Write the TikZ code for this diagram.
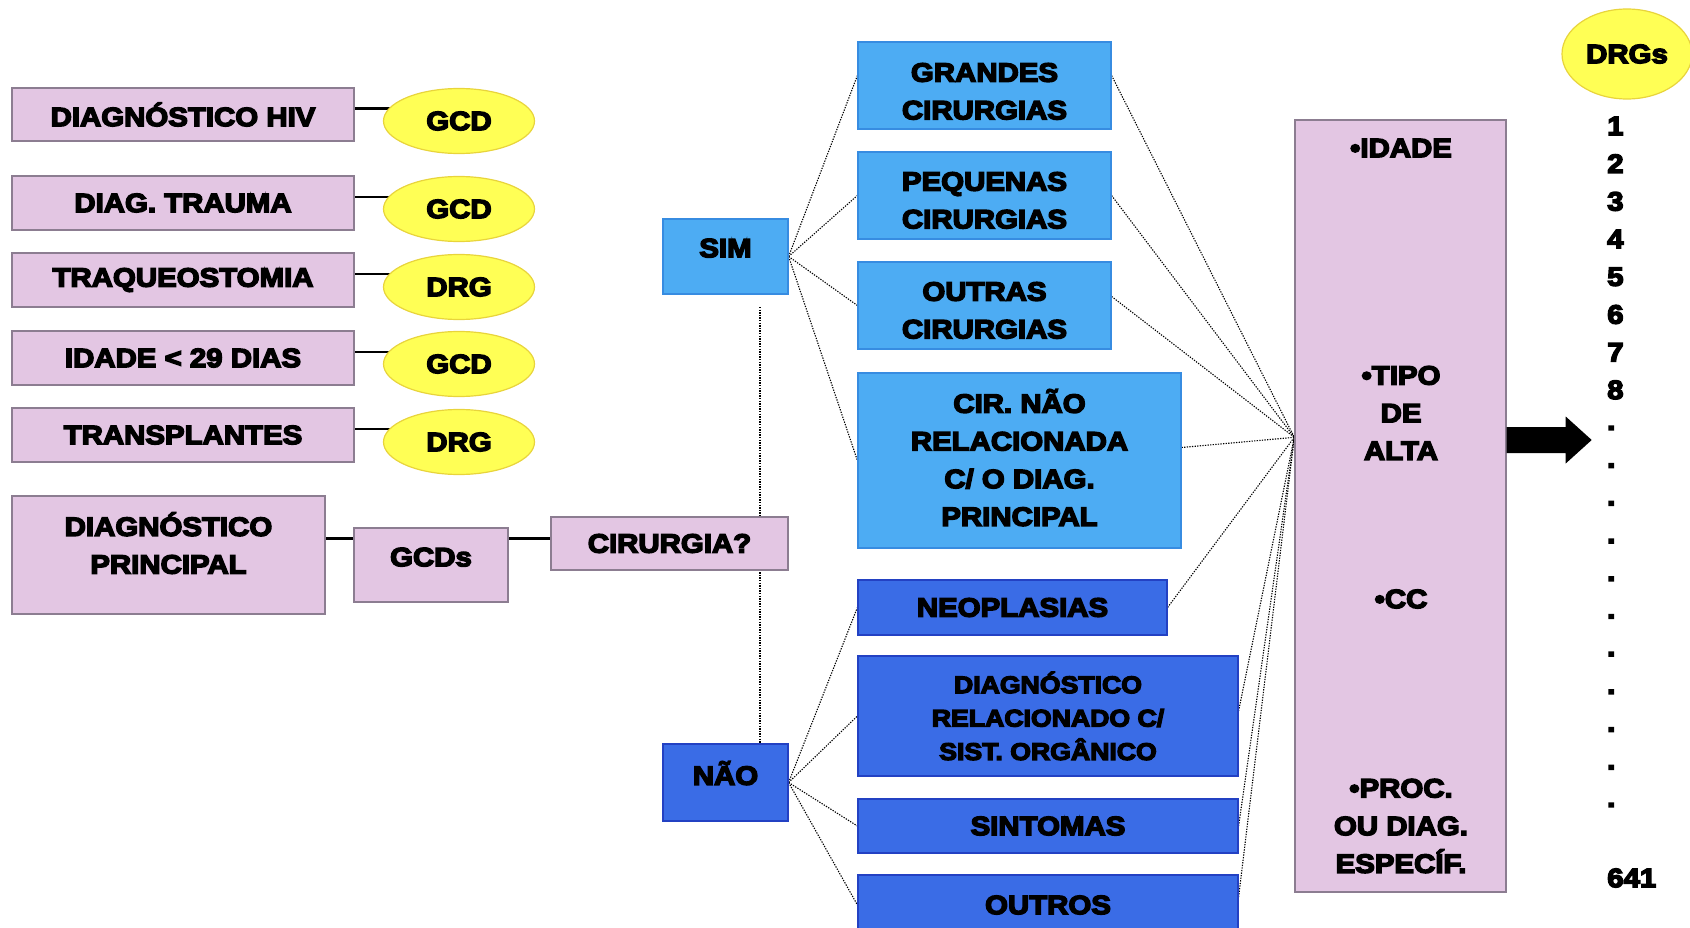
\documentclass[tikz,border=0pt]{standalone}
\usepackage{fontspec}
\newfontfamily\hv{Liberation Sans Bold}[FakeBold=5.5,FakeStretch=1.11]
\usetikzlibrary{calc,shapes.geometric}
\definecolor{pinkf}{RGB}{227,198,227}
\definecolor{pinkd}{RGB}{140,125,145}
\definecolor{lblue}{RGB}{77,172,243}
\definecolor{lblued}{RGB}{55,140,225}
\definecolor{dblue}{RGB}{58,108,230}
\definecolor{dblued}{RGB}{35,65,195}
\definecolor{yel}{RGB}{255,255,85}
\definecolor{yeld}{RGB}{232,212,60}
\pgfdeclarelayer{bg}
\pgfsetlayers{bg,main}
\tikzset{
  txt/.style={font=\hv\fontsize{26.5}{37.7}\selectfont, align=center, text=black, inner sep=0pt},
  pbox/.style={txt, draw=pinkd, fill=pinkf, line width=1.4pt},
  lbox/.style={txt, draw=lblued, fill=lblue, line width=1.2pt},
  dbox/.style={txt, draw=dblued, fill=dblue, line width=1.2pt},
  yell/.style={txt, ellipse, draw=yeld, fill=yel, line width=1.2pt},
  num/.style={txt, anchor=west},
  sline/.style={line width=2.4pt, black},
  dline/.style={line width=1.1pt, black, dash pattern=on 1.3pt off 1.3pt}
}
\begin{document}
\begin{tikzpicture}[x=1pt,y=-1pt]
\useasboundingbox (0,0) rectangle (1690,928);
% left column
\node[pbox, minimum width=342, minimum height=53] (b1) at (183,114.5) {DIAGNÓSTICO HIV};
\node[pbox, minimum width=342, minimum height=54] (b2) at (183,203) {DIAG. TRAUMA};
\node[pbox, minimum width=342, minimum height=54] (b3) at (183,280) {TRAQUEOSTOMIA};
\node[pbox, minimum width=342, minimum height=54] (b4) at (183,358) {IDADE < 29 DIAS};
\node[pbox, minimum width=342, minimum height=54] (b5) at (183,435) {TRANSPLANTES};
\node[yell, minimum width=151, minimum height=65] (e1) at (459,121) {GCD};
\node[yell, minimum width=151, minimum height=65] (e2) at (459,209) {GCD};
\node[yell, minimum width=151, minimum height=65] (e3) at (459,287) {DRG};
\node[yell, minimum width=151, minimum height=65] (e4) at (459,364) {GCD};
\node[yell, minimum width=151, minimum height=65] (e5) at (459,442) {DRG};
% bottom-left chain
\node[pbox, minimum width=313, minimum height=118, text depth=24pt] (dp) at (168.5,555) {DIAGNÓSTICO\\PRINCIPAL};
\node[pbox, minimum width=154, minimum height=74, text depth=16pt] (gc) at (431,565) {GCDs};
\node[pbox, minimum width=237, minimum height=53] (cir) at (669.5,543.5) {CIRURGIA?};
% sim / nao
\node[lbox, minimum width=125, minimum height=75, text depth=17pt] (sim) at (725.5,256.5) {SIM};
\node[dbox, minimum width=125, minimum height=77, text depth=19pt] (nao) at (725.5,782.5) {NÃO};
% light blue
\node[lbox, minimum width=253, minimum height=87, text height=68pt] (g1) at (984.5,85.5) {GRANDES\\CIRURGIAS};
\node[lbox, minimum width=253, minimum height=87, text height=66pt] (g2) at (984.5,195.5) {PEQUENAS\\CIRURGIAS};
\node[lbox, minimum width=253, minimum height=87, text height=66pt] (g3) at (984.5,305.5) {OUTRAS\\CIRURGIAS};
\node[lbox, minimum width=323, minimum height=175, text depth=6pt] (g4) at (1019.5,460.5) {CIR. NÃO\\RELACIONADA\\C/ O DIAG.\\PRINCIPAL};
% dark blue
\node[dbox, minimum width=309, minimum height=55] (d1) at (1012.5,607.5) {NEOPLASIAS};
\node[dbox, minimum width=380, minimum height=120, font=\hv\fontsize{24}{33.4}\selectfont] (d2) at (1048,716) {DIAGNÓSTICO\\RELACIONADO C/\\SIST. ORGÂNICO};
\node[dbox, minimum width=380, minimum height=54] (d3) at (1048,826) {SINTOMAS};
\node[dbox, minimum width=380, minimum height=60] (d4) at (1048,905) {OUTROS};
% right pink box
\node[pbox, minimum width=211, minimum height=772] (rb) at (1400.5,506) {};
\node[txt] (t1) at (1401,148) {•IDADE};
\node[txt] (t2) at (1401,413) {•TIPO\\DE\\ALTA};
\node[txt] (t3) at (1401,599) {•CC};
\node[txt] (t4) at (1401,826) {•PROC.\\OU DIAG.\\ESPECÍF.};
\coordinate (hub) at ($(rb.north west)+(0,318)$);
% arrow
\coordinate (ar) at ($(rb.east)+(0,-66.5)$);
\fill[black] (ar) ++(0,-12.5) -- ++(59,0) -- ++(0,-10.5) -- ++(26,23.5) -- ++(-26,23.5) -- ++(0,-10.5) -- ++(-59,0) -- cycle;
% DRGs column
\node[yell, minimum width=130, minimum height=90] (drg) at (1627,54) {DRGs};
\foreach \n [count=\k from 0] in {1,...,8}
  \node[num] (n\n) at (1607,{126+37.7*\k}) {\n};
\foreach \k in {0,...,10}
  \node[num] (dot\k) at (1607,{428+37.7*\k}) {.};
\node[num] (nlast) at (1607,878) {641};
% connectors
\begin{pgfonlayer}{bg}
\foreach \i in {1,...,5}
  \draw[sline] ([yshift=6pt]b\i.east) -- ([yshift=6pt]b\i.east -| e\i.center);
\draw[sline] ([yshift=5pt]dp.east |- cir.center) -- ([yshift=5pt]gc.west |- cir.center);
\draw[sline] ([yshift=5pt]gc.east |- cir.center) -- ([yshift=5pt]cir.west);
\coordinate (v1) at (760,307);
\draw[dline] (v1) -- (v1 |- nao.north);
\draw[dline] (sim.east) -- ([yshift=10pt]g1.west);
\draw[dline] (sim.east) -- (g2.west);
\draw[dline] (sim.east) -- (g3.west);
\draw[dline] (sim.east) -- (g4.west);
\draw[dline] ([yshift=10pt]g1.east) -- (hub);
\draw[dline] (g2.east) -- (hub);
\draw[dline] ([yshift=9pt]g3.east) -- (hub);
\draw[dline] ([yshift=13pt]g4.east) -- (hub);
\draw[dline] (nao.east) -- (d1.west);
\draw[dline] (nao.east) -- (d2.west);
\draw[dline] (nao.east) -- (d3.west);
\draw[dline] (nao.east) -- (d4.west);
\draw[dline] (d1.east) -- (hub);
\draw[dline] ([yshift=5pt]d2.east) -- (hub);
\draw[dline] (d3.east) -- (hub);
\draw[dline] ([yshift=8pt]d4.east) -- (hub);
\end{pgfonlayer}
\end{tikzpicture}
\end{document}
